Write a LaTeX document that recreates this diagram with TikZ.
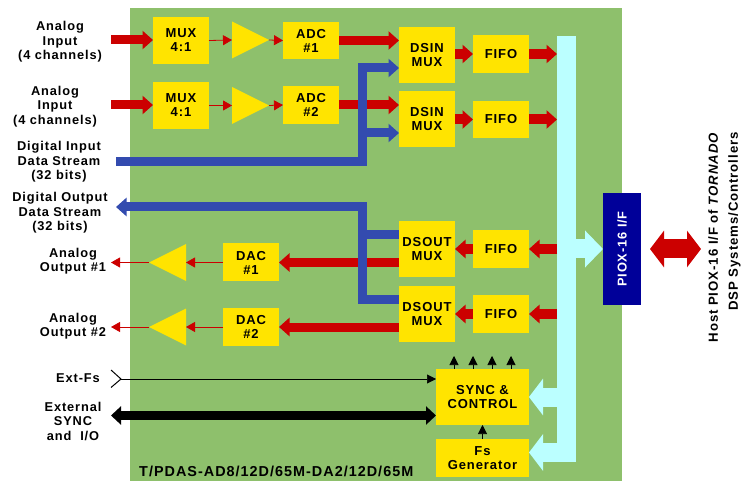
\documentclass[tikz,border=0pt]{standalone}
\usepackage{fontspec}
\setmainfont[LetterSpace=7]{Liberation Sans}
\usetikzlibrary{positioning,arrows.meta,shapes.geometric}
\definecolor{boardgreen}{HTML}{8EC06C}
\definecolor{blockyellow}{HTML}{FFE400}
\definecolor{sigred}{HTML}{CC0000}
\definecolor{datablue}{HTML}{334BAF}
\definecolor{pioxnavy}{HTML}{000099}
\definecolor{buscyan}{HTML}{BBFFFF}

\begin{document}
\begin{tikzpicture}[x=1pt,y=-1pt,font=\fontsize{12.8}{14.5}\selectfont\bfseries,
block/.style={fill=blockyellow,align=center,minimum width=56pt,inner sep=0pt,outer sep=0pt,font=\fontsize{13}{14}\selectfont\bfseries},
amp/.style={isosceles triangle,isosceles triangle stretches,fill=blockyellow,minimum width=37pt,minimum height=37pt,inner sep=0pt,outer sep=0pt,anchor=apex},
lbl/.style={align=center},
redfat/.style={draw=sigred,line width=9pt,-{Triangle[length=10.5pt,width=18pt]}},
redfine/.style={draw=sigred,line width=.8pt,-{Triangle[length=9pt,width=10pt]}},
bluefat/.style={draw=datablue,line width=9pt,miter limit=10},
bluetip/.style={bluefat,-{Triangle[length=10.5pt,width=18pt]}},
cyanfat/.style={draw=buscyan,line width=19pt,-{Triangle[length=14pt,width=36pt]}},
blackfine/.style={draw=black,line width=.6pt,-{Triangle[length=9pt,width=9pt]}}]
\useasboundingbox (0,0) rectangle (750,481);
\node[fill=boardgreen,minimum width=492pt,minimum height=473pt,inner sep=0pt,outer sep=0pt] (board) at (376,244.5) {};
% input side
\node[block,minimum height=47pt] (mux1) at (181,40.5) {MUX\\4:1};
\node[block,minimum height=47pt] (mux2) at (181,105.5) {MUX\\4:1};
\node[amp] (amp1) at (269,40) {};
\node[amp] (amp2) at (269,105.5) {};
\node[block,minimum height=37pt] (adc1) at (311,40.5) {ADC\\\#1};
\node[block,minimum height=38pt] (adc2) at (311,105) {ADC\\\#2};
\node[block,minimum height=56pt] (dsin1) at (427,55) {DSIN\\MUX};
\node[block,minimum height=56pt] (dsin2) at (427,119) {DSIN\\MUX};
\node[block,minimum height=38pt] (fifo1) at (501,54) {FIFO};
\node[block,minimum height=37pt] (fifo2) at (501,119.5) {FIFO};
% output side
\node[block,minimum height=56pt] (dsout1) at (427,249) {DSOUT\\MUX};
\node[block,minimum height=56pt] (dsout2) at (427,314) {DSOUT\\MUX};
\node[block,minimum height=38pt] (fifo3) at (501,249) {FIFO};
\node[block,minimum height=38pt] (fifo4) at (501,314) {FIFO};
\node[block,minimum height=38pt] (dac1) at (251,262.5) {DAC\\\#1};
\node[block,minimum height=38pt] (dac2) at (251,327) {DAC\\\#2};
\node[amp,shape border rotate=180] (amp3) at (149,262.5) {};
\node[amp,shape border rotate=180] (amp4) at (149,327) {};
% control
\node[block,minimum width=93pt,minimum height=56pt] (sync) at (482.5,397) {SYNC \&\\CONTROL};
\node[block,minimum width=93pt,minimum height=38pt] (fsgen) at (482.5,458) {Fs\\Generator};
\node[fill=buscyan,minimum width=19pt,minimum height=426pt,inner sep=0pt,outer sep=0pt] (bus) at (566.5,249) {};
\node[fill=pioxnavy,text=white,minimum width=38pt,minimum height=112pt,inner sep=0pt,outer sep=0pt] (piox) at (622,249) {\rotatebox{90}{PIOX-16 I/F}};
% labels
\node[lbl] (ain1) at (60,42) {Analog\\Input\\(4 channels)};
\node[lbl] (ain2) at (55,106.5) {Analog\\Input\\(4 channels)};
\node[lbl] (din) at (59,162) {Digital Input\\Data Stream\\(32 bits)};
\node[lbl] (dout) at (60,213) {Digital Output\\Data Stream\\(32 bits)};
\node[lbl] (aout1) at (73,261) {Analog\\Output \#1};
\node[lbl] (aout2) at (73,326) {Analog\\Output \#2};
\node[lbl] (extfs) at (78,378) {Ext-Fs};
\node[lbl] (extsync) at (73,421) {External\\SYNC\\and\ \ I/O};
\node[anchor=west,inner sep=0pt,font=\fontsize{14.4}{14}\selectfont\bfseries] (title) at (139,471) {T/PDAS-AD8/12D/65M-DA2/12D/65M};
\node[rotate=90,align=right,anchor=north east,inner sep=0pt,font=\fontsize{13.2}{20}\selectfont\bfseries] (host) at (708,132) {Host PIOX-16 I/F of \textit{TORNADO}\\DSP Systems/Controllers};
% free ends
\coordinate (in1) at (111,40);
\coordinate (in2) at (111,105);
\coordinate (out1) at (111,262.5);
\coordinate (out2) at (111,327);
\coordinate (fsin) at (121,379);
\coordinate (syncio) at (111,415.5);
\coordinate (hostl) at (650,249);
\coordinate (hostr) at (701,249);
\coordinate (dinl) at (116,161.5);
\coordinate (dinr) at (366.5,161.5);
\coordinate (dinv) at (362,161.5);
\coordinate (dsin1b) at (399,68);
\coordinate (dsin2b) at (399,133);
\coordinate (doutl) at (116,207);
\coordinate (doutv) at (362,207);
\coordinate (dsout1a) at (399,234.5);
\coordinate (dsout2a) at (399,299.5);
\coordinate (fsbus) at (566.5,452.5);
% analog in
\draw[redfat] (in1) -- (mux1.west |- in1);
\draw[redfat] (in2) -- (mux2.west |- in2);
\draw[redfine] (mux1.east) -- (amp1.lower side);
\draw[redfine] (mux2.east) -- (amp2.lower side);
\draw[redfine] (amp1.apex) -- (adc1.west);
\draw[redfine] (amp2.apex) -- (adc2.west);
\draw[redfat] (adc1.east) -- (adc1.east -| dsin1.west);
\draw[redfat] (adc2.east) -- (adc2.east -| dsin2.west);
\draw[redfat,line width=10pt] (dsin1.east |- fifo1.west) -- (fifo1.west);
\draw[redfat,line width=10pt] (dsin2.east |- fifo2.west) -- (fifo2.west);
\draw[redfat,line width=10pt] (fifo1.east) -- (bus.west |- fifo1.east);
\draw[redfat,line width=10pt] (fifo2.east) -- (bus.west |- fifo2.east);
% analog out
\draw[redfat,line width=10pt] (bus.west |- fifo3.east) -- (fifo3.east);
\draw[redfat,line width=10pt] (bus.west |- fifo4.east) -- (fifo4.east);
\draw[redfat,line width=10pt] (fifo3.west) -- (dsout1.east |- fifo3.west);
\draw[redfat,line width=10pt] (fifo4.west) -- (dsout2.east |- fifo4.west);
\draw[redfat] (dsout1.west |- dac1.east) -- (dac1.east);
\draw[redfat] (dsout2.west |- dac2.east) -- (dac2.east);
\draw[redfine] (dac1.west) -- (amp3.lower side);
\draw[redfine] (dac2.west) -- (amp4.lower side);
\draw[redfine] (amp3.apex) -- (out1);
\draw[redfine] (amp4.apex) -- (out2);
% digital streams
\draw[bluefat] (dinl) -- (dinr);
\draw[bluetip] (dinv) -- (dinv |- dsin1b) -- (dsin1b);
\draw[bluetip] (dinv |- dsin2b) -- (dsin2b);
\draw[bluetip] (dsout2a) -- (doutv |- dsout2a) -- (doutv) -- (doutl);
\draw[bluefat] (doutv |- dsout1a) -- (dsout1a);
% bus branches
\draw[cyanfat,-{Triangle[length=18pt,width=36pt]}] (bus.center |- piox.west) -- (piox.west);
\draw[cyanfat] (bus.center |- sync.east) -- (sync.east);
\draw[cyanfat] (fsbus) -- (fsbus -| fsgen.east);
% control
\draw[black,line width=1pt] (fsin) ++(-10,-9) -- (fsin) -- ++(-10,8.5);
\draw[blackfine] (fsin) -- (fsin -| sync.west);
\draw[line width=9pt,{Triangle[length=10pt,width=18pt]}-{Triangle[length=10pt,width=18pt]}] (syncio) -- (syncio -| sync.west);
\foreach \tapx in {454,473,492,511}
  \draw[blackfine] (\tapx,369) -- (\tapx,356);
\draw[blackfine] (fsgen.north) -- (sync.south);
\draw[draw=sigred,line width=19pt,{Triangle[length=14pt,width=36pt]}-{Triangle[length=14pt,width=36pt]}] (hostl) -- (hostr);
\end{tikzpicture}
\end{document}
